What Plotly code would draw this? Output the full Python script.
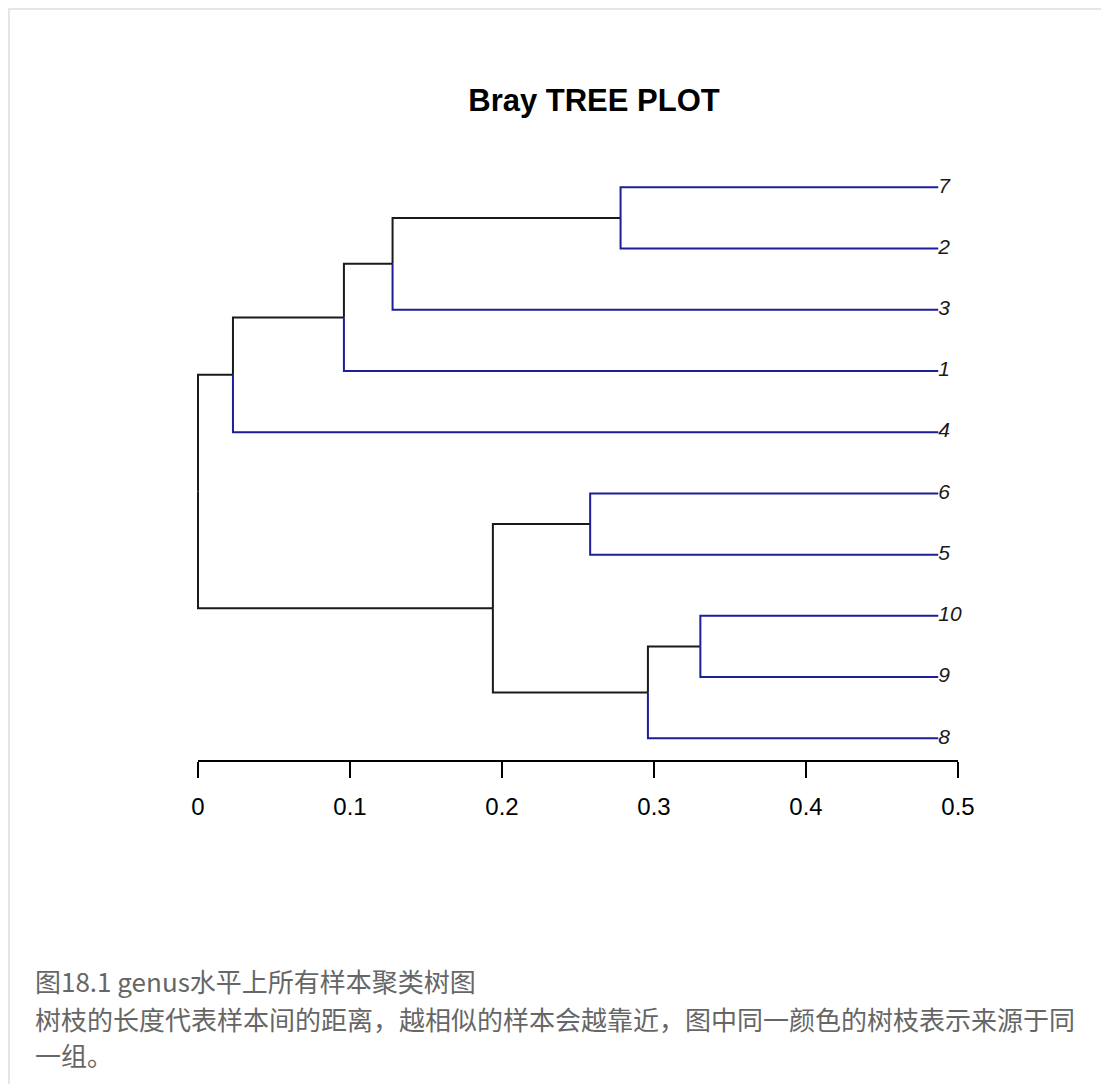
import plotly.graph_objects as go

# ---------------- data ----------------
leaf_labels = ["7", "2", "3", "1", "4", "6", "5", "10", "9", "8"]   # top -> bottom
leaf_height = 0.487
node_names = ["root", "A", "B", "C", "D", "E", "F", "G", "H"]
node_heights = [0.0, 0.023, 0.096, 0.128, 0.278, 0.194, 0.258, 0.296, 0.3305]
node_children = [["A", "E"], ["B", "4"], ["C", "1"], ["D", "3"], ["7", "2"],
                 ["F", "G"], ["6", "5"], ["H", "8"], ["10", "9"]]
tick_vals = [0, 0.1, 0.2, 0.3, 0.4, 0.5]
tick_text = ["0", "0.1", "0.2", "0.3", "0.4", "0.5"]

title_text = "<b>Bray TREE PLOT</b>"
caption_1 = "图18.1 genus水平上所有样本聚类树图"
caption_2 = "树枝的长度代表样本间的距离，越相似的样本会越靠近，图中同一颜色的树枝表示来源于同"
caption_3 = "一组。"

# ---------------- geometry (figure sits inside 8px body margin) ----------------
OFF = 8
W, H = 1109 - 2 * OFF, 1092 - 2 * OFF


def fx(px):  # reference page x -> figure x
    return px - OFF


def fy(py):
    return py - OFF


n = len(leaf_labels)
ypos = {lab: n - i for i, lab in enumerate(leaf_labels)}
xpos = {lab: leaf_height for lab in leaf_labels}
children = dict(zip(node_names, node_children))
for nm, h in zip(node_names, node_heights):
    xpos[nm] = h


def get_y(nm):
    if nm in ypos:
        return ypos[nm]
    ys = [get_y(c) for c in children[nm]]
    ypos[nm] = sum(ys) / len(ys)
    return ypos[nm]


get_y("root")

BLUE = "#1e1e96"
BLACK = "#1a1a1a"
fig = go.Figure()
for parent in node_names:
    for c in children[parent]:
        is_leaf = c in leaf_labels
        fig.add_trace(go.Scatter(
            x=[xpos[parent], xpos[parent], xpos[c]],
            y=[ypos[parent], ypos[c], ypos[c]],
            mode="lines",
            line=dict(color=BLUE if is_leaf else BLACK, width=2),
            hoverinfo="skip", showlegend=False))

fig.add_trace(go.Scatter(
    x=[xpos[l] for l in leaf_labels], y=[ypos[l] for l in leaf_labels],
    mode="text", text=leaf_labels, textposition="middle right",
    textfont=dict(family="Liberation Sans", size=21, color="#1a1a1a", style="italic"),
    cliponaxis=False, hoverinfo="skip", showlegend=False))

# invisible trace carrying the displayed distance axis
fig.add_trace(go.Scatter(x=[tick_vals[0], tick_vals[-1]], y=[ypos["root"], ypos["root"]],
                         xaxis="x2", yaxis="y", mode="lines", line=dict(width=0), opacity=0,
                         hoverinfo="skip", showlegend=False))

# pixel mapping
x0_px, x1_px = fx(198), fx(958)
scale_x = (x1_px - x0_px) / 0.5
x_lo = -x0_px / scale_x
x_hi = (W - x0_px) / scale_x

y_top_leaf_px, y_bot_leaf_px = fy(187.3), fy(738.3)
unit = (y_bot_leaf_px - y_top_leaf_px) / (n - 1)
y_hi = n + y_top_leaf_px / unit
y_lo = 1 - (H - y_bot_leaf_px) / unit

axis_px = fy(761)
axis_pos = 1 - axis_px / H

fig.update_layout(
    width=W, height=H, autosize=False,
    margin=dict(l=0, r=0, t=0, b=0, pad=0),
    paper_bgcolor="white", plot_bgcolor="white",
    title=dict(text=title_text, x=fx(594) / W, xref="paper", xanchor="center",
               y=1 - fy(100) / H, yref="container", yanchor="middle",
               font=dict(family="Liberation Sans", size=31, color="black")),
    xaxis=dict(domain=[0, 1], range=[x_lo, x_hi], visible=False,
               showgrid=False, zeroline=False),
    xaxis2=dict(range=[x_lo, x_hi], anchor="free", position=axis_pos, side="bottom",
                overlaying="x",
                showgrid=False, zeroline=False, showline=False,
                ticks="outside", ticklen=16, tickwidth=2, tickcolor="black",
                tickvals=tick_vals, ticktext=tick_text, ticklabelstandoff=8,
                tickfont=dict(family="Liberation Sans", size=24, color="black")),
    yaxis=dict(domain=[0, 1], range=[y_lo, y_hi],
               visible=False, showgrid=False, zeroline=False),
)

# axis baseline spanning the first to the last tick
fig.add_shape(type="line", xref="x2", yref="paper", x0=tick_vals[0], x1=tick_vals[-1],
              y0=axis_pos, y1=axis_pos, line=dict(color="black", width=2))

# frame lines (top and left)
fig.add_shape(type="line", xref="paper", yref="paper", x0=0, x1=1, y0=1 - 1 / H, y1=1 - 1 / H,
              line=dict(color="#e6e6e6", width=2))
fig.add_shape(type="line", xref="paper", yref="paper", x0=1 / W, x1=1 / W, y0=0, y1=1,
              line=dict(color="#e6e6e6", width=2))

cap_font = dict(family="Noto Sans CJK SC", size=26, color="#666666")
for txt, ypx in [(caption_1, 980), (caption_2, 1018), (caption_3, 1054)]:
    fig.add_annotation(text=txt, xref="paper", yref="paper", x=fx(33) / W, y=1 - fy(ypx) / H,
                       xanchor="left", yanchor="middle", showarrow=False, font=cap_font)

fig.write_html("out.html")
